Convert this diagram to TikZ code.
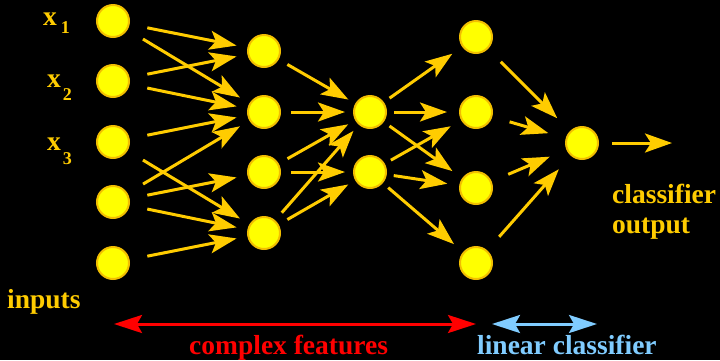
\documentclass[tikz,border=0pt]{standalone}
\usepackage{fontspec}
\setmainfont{Liberation Serif}
\usetikzlibrary{arrows.meta}
\definecolor{gold}{HTML}{FFCC00}
\definecolor{nodeyel}{HTML}{FFFF00}
\definecolor{nodeedge}{HTML}{F2BE00}
\definecolor{lblue}{HTML}{80CCFF}
\tikzset{
  neuron/.style={circle, minimum size=32pt, inner sep=0pt, fill=nodeyel, draw=nodeedge, line width=2pt},
  conn/.style={draw=gold, fill=gold, line width=3pt, -{Stealth[length=27pt,width=19pt,inset=6pt]}},
  ga/.style={conn, shorten <=18pt, shorten >=11pt},
  gb/.style={conn, shorten <=10pt, shorten >=8pt},
  gc/.style={conn, shorten <=7pt, shorten >=12pt},
  gd/.style={conn, shorten <=18pt, shorten >=18pt},
  lbl/.style={font=\bfseries\fontsize{27.5}{30}\selectfont, inner sep=0pt, anchor=base west},
  xlbl/.style={text=gold, font=\bfseries\fontsize{27.5}{30}\selectfont, inner sep=0pt, anchor=base west},
  span/.style={line width=3pt, {Stealth[length=28pt,width=18pt,inset=5pt]}-{Stealth[length=28pt,width=18pt,inset=5pt]}}
}
\begin{document}
\begin{tikzpicture}[x=1pt,y=-1pt]
\useasboundingbox (0,0) rectangle (720,360);
\fill[black] (0,0) rectangle (720,360);
% layer 1
\node[neuron] (a1) at (113,21) {};
\node[neuron] (a2) at (113,81) {};
\node[neuron] (a3) at (113,142) {};
\node[neuron] (a4) at (113,202) {};
\node[neuron] (a5) at (113,263) {};
% layer 2
\node[neuron] (b1) at (264,51) {};
\node[neuron] (b2) at (264,112) {};
\node[neuron] (b3) at (264,172) {};
\node[neuron] (b4) at (264,233) {};
% layer 3
\node[neuron] (c1) at (370,112) {};
\node[neuron] (c2) at (370,172) {};
% layer 4
\node[neuron] (d1) at (476,37) {};
\node[neuron] (d2) at (476,112) {};
\node[neuron] (d3) at (476,188) {};
\node[neuron] (d4) at (476,263) {};
% output
\node[neuron] (o) at (582,143) {};
\coordinate (out) at (672,143);
% connectors
\draw[ga] (a1) -- (b1);
\draw[ga] (a1) -- (b2);
\draw[ga] (a2) -- (b1);
\draw[ga] (a2) -- (b2);
\draw[ga] (a3) -- (b2);
\draw[ga] (a3) -- (b4);
\draw[ga] (a4) -- (b2);
\draw[ga] (a4) -- (b3);
\draw[ga] (a4) -- (b4);
\draw[ga] (a5) -- (b4);
\draw[gb] (b1) -- (c1);
\draw[gb] (b2) -- (c1);
\draw[gb] (b3) -- (c1);
\draw[gb] (b3) -- (c2);
\draw[gb] (b4) -- (c1);
\draw[gb] (b4) -- (c2);
\draw[gc] (c1) -- (d1);
\draw[gc] (c1) -- (d2);
\draw[gc] (c1) -- (d3);
\draw[gc] (c2) -- (d2);
\draw[gc] (c2) -- (d3);
\draw[gc] (c2) -- (d4);
\draw[gd] (d1) -- (o);
\draw[gd] (d2) -- (o);
\draw[gd] (d3) -- (o);
\draw[gd] (d4) -- (o);
\draw[conn, shorten <=13pt] (o) -- (out);
% labels
\node[xlbl] (x1) at (43,25) {x\hspace{4pt}\raisebox{-8pt}{\fontsize{18}{18}\selectfont 1}};
\node[xlbl] (x2) at (47,87) {x\hspace{2pt}\raisebox{-13pt}{\fontsize{18}{18}\selectfont 2}};
\node[xlbl] (x3) at (47,150) {x\hspace{2pt}\raisebox{-14pt}{\fontsize{18}{18}\selectfont 3}};
\node[lbl, text=gold] (inp) at (7,308) {inputs};
\node[lbl, text=gold] (cl) at (612,203) {classifier};
\node[lbl, text=gold] (op) at (612,233) {output};
% spans
\coordinate (r1) at (114,324);
\coordinate (r2) at (476,324);
\coordinate (s1) at (492,324);
\coordinate (s2) at (597,324);
\draw[span, draw=red, fill=red] (r1) -- (r2);
\draw[span, draw=lblue, fill=lblue] (s1) -- (s2);
\node[lbl, text=red] (cf) at (189,354) {complex features};
\node[lbl, text=lblue] (lc) at (477,354) {linear classifier};
\end{tikzpicture}
\end{document}
